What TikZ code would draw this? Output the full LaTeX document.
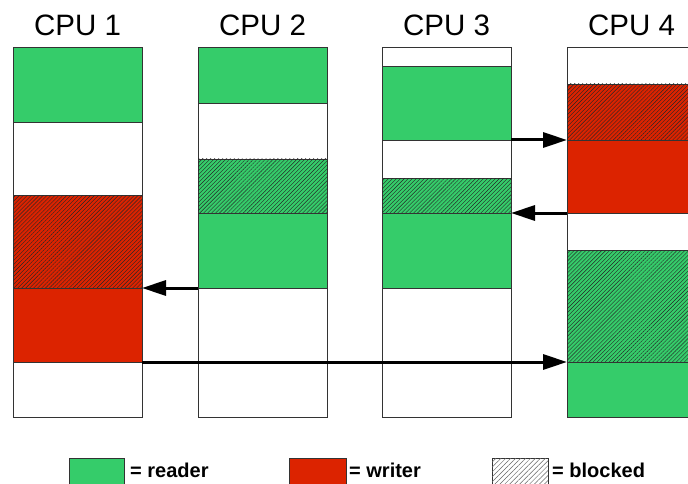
\documentclass[tikz,border=0pt]{standalone}
\usepackage{fontspec}
\setmainfont{Liberation Sans}
\usetikzlibrary{arrows.meta,positioning,patterns.meta}
\definecolor{reader}{RGB}{53,204,106}
\definecolor{writer}{RGB}{220,35,0}

\begin{document}
\begin{tikzpicture}[
    x=1pt, y=-1pt,
    node distance=0pt,
    slot/.style={
      draw=black!80,
      line width=0.9pt,
      minimum width=129pt,
      minimum height=#1,
      inner sep=0pt,
      outer sep=0pt
    },
    rd/.style={fill=reader},
    wr/.style={fill=writer},
    wt/.style={fill=white},
    blk/.style={postaction={pattern={Lines[angle=45,distance=2.8pt,line width=0.4pt]},pattern color=black!85}},
    title/.style={font=\fontsize{29.5}{33}\selectfont, inner sep=0pt},
    key/.style={font=\fontsize{20}{24}\selectfont\bfseries, anchor=base west, inner sep=0pt},
    flow/.style={-{Triangle[length=24pt,width=15pt]}, line width=3pt}
  ]
    \useasboundingbox (0,0) rectangle (688,484);
    % CPU 1
    \node[slot=75pt,rd,anchor=north west] (c1a) at (13,47) {};
    \node[slot=73pt,wt,below=of c1a] (c1b) {};
    \node[slot=93pt,wr,blk,below=of c1b] (c1c) {};
    \node[slot=74pt,wr,below=of c1c] (c1d) {};
    \node[slot=55pt,wt,below=of c1d] (c1e) {};
    % CPU 2
    \node[slot=56pt,rd,anchor=north west] (c2a) at (198,47) {};
    \node[slot=56pt,wt,below=of c2a] (c2b) {};
    \node[slot=54pt,rd,blk,below=of c2b] (c2c) {};
    \node[slot=75pt,rd,below=of c2c] (c2d) {};
    \node[slot=129pt,wt,below=of c2d] (c2e) {};
    % CPU 3
    \node[slot=19pt,wt,anchor=north west] (c3a) at (382,47) {};
    \node[slot=74pt,rd,below=of c3a] (c3b) {};
    \node[slot=38pt,wt,below=of c3b] (c3c) {};
    \node[slot=35pt,rd,blk,below=of c3c] (c3d) {};
    \node[slot=75pt,rd,below=of c3d] (c3e) {};
    \node[slot=129pt,wt,below=of c3e] (c3f) {};
    % CPU 4
    \node[slot=37pt,wt,anchor=north west] (c4a) at (567,47) {};
    \node[slot=56pt,wr,blk,below=of c4a] (c4b) {};
    \node[slot=73pt,wr,below=of c4b] (c4c) {};
    \node[slot=37pt,wt,below=of c4c] (c4d) {};
    \node[slot=112pt,rd,blk,below=of c4d] (c4e) {};
    \node[slot=55pt,rd,below=of c4e] (c4f) {};
    % titles
    \node[title,above=11.5pt of c1a] (t1) {CPU 1};
    \node[title,above=11.5pt of c2a] (t2) {CPU 2};
    \node[title,above=11.5pt of c3a] (t3) {CPU 3};
    \node[title,above=11.5pt of c4a] (t4) {CPU 4};
    % hand-overs
    \draw[flow] (c3b.south east) -- (c4b.south west);
    \draw[flow] (c4c.south west) -- (c3d.south east);
    \draw[flow] (c2d.south west) -- (c1c.south east);
    \draw[flow] (c1d.south east) -- (c4e.south west);
    % legend
    \node[slot=30pt,minimum width=55pt,rd,anchor=north west] (k1) at (69,458) {};
    \node[key] (k1t) at (130,477) {= reader};
    \node[slot=30pt,minimum width=57pt,wr,anchor=north west] (k2) at (289,458) {};
    \node[key] (k2t) at (349,477) {= writer};
    \node[slot=30pt,minimum width=56pt,wt,anchor=north west,
      postaction={pattern={Lines[angle=45,distance=3.5pt,line width=0.5pt]},pattern color=black!60}] (k3) at (492,458) {};
    \node[key] (k3t) at (552,477) {= blocked};
\end{tikzpicture}
\end{document}
